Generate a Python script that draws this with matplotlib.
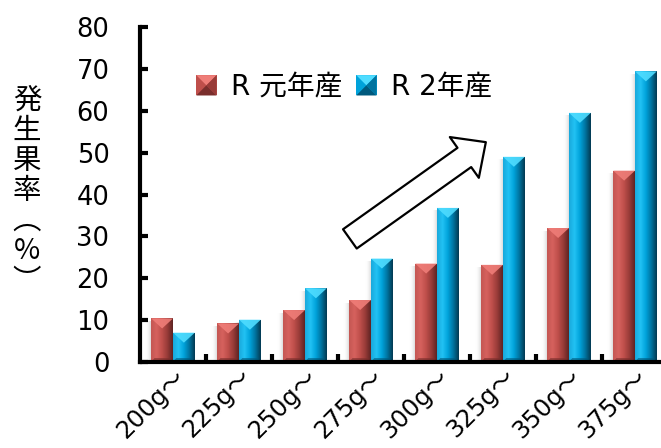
import numpy as np
import matplotlib
matplotlib.use('Agg')
import matplotlib.pyplot as plt
from matplotlib.colors import LinearSegmentedColormap
from matplotlib.patches import Polygon, Rectangle, FancyArrowPatch, ArrowStyle
from matplotlib.legend_handler import HandlerBase

# data
categories = ['200g～', '225g～', '250g～', '275g～', '300g～', '325g～', '350g～', '375g～']
series_names = ['R 元年産', 'R 2年産']
r1_values = [10.4, 9.2, 12.4, 14.8, 23.5, 23.2, 32.0, 45.7]
r2_values = [7.0, 10.1, 17.6, 24.7, 36.8, 49.0, 59.5, 69.4]

# bar styling: side-to-side gradient, top highlight, bottom shade
red_style = dict(base='#b84c48',
                 stops=['#c45753', '#d6625e', '#bf4f4b', '#983b38', '#5e2423'],
                 top='#ef7d78', bottom='#7a2e2c')
blue_style = dict(base='#00a4dc',
                  stops=['#19a9dc', '#22c2f4', '#00a2da', '#00739f', '#033a52'],
                  top='#4fdcff', bottom='#00597d')

plt.rcParams['font.family'] = ['DejaVu Sans', 'Noto Sans CJK JP']

fig = plt.figure(figsize=(6.61, 4.48), dpi=100)
ax = fig.add_axes([140 / 661, 86 / 448, 528 / 661, 335 / 448])

x = np.arange(len(categories))
w = 0.33
bars1 = ax.bar(x - w / 2, r1_values, w, color=red_style['base'], zorder=2)
bars2 = ax.bar(x + w / 2, r2_values, w, color=blue_style['base'], zorder=2)

ax.set_xlim(-0.5, 7.5)
ax.set_ylim(0, 80)

# data units per pixel (y)
ypx = 80 / (335.0)


def shade_bar(bar, st):
    x0, y0 = bar.get_x(), bar.get_y()
    bw, bh = bar.get_width(), bar.get_height()
    cmap = LinearSegmentedColormap.from_list('g', st['stops'])
    grad = np.linspace(0, 1, 64).reshape(1, -1)
    im = ax.imshow(grad, extent=(x0, x0 + bw, y0, y0 + bh), aspect='auto',
                   cmap=cmap, origin='lower', zorder=3, interpolation='bilinear')
    im.set_clip_path(bar)
    d = 10 * ypx
    ax.add_patch(Polygon([(x0, bh), (x0 + bw, bh), (x0 + bw / 2, bh - d)],
                         closed=True, fc=st['top'], ec='none', zorder=4, alpha=0.9))
    d2 = 4 * ypx
    ax.add_patch(Polygon([(x0, 0), (x0 + bw, 0), (x0 + bw * 0.85, d2), (x0 + bw * 0.15, d2)],
                         closed=True, fc=st['bottom'], ec='none', zorder=4, alpha=0.6))
    # soft shadow on the left
    sh = np.linspace(0, 1, 16).reshape(1, -1)
    ax.imshow(sh, extent=(x0 - 0.09, x0, y0, y0 + bh - 3 * ypx), aspect='auto',
              cmap=LinearSegmentedColormap.from_list('s', ['#ffffff00', '#00000022']),
              origin='lower', zorder=1.5)


for b in bars1:
    shade_bar(b, red_style)
for b in bars2:
    shade_bar(b, blue_style)

ax.set_xlim(-0.5, 7.5)
ax.set_ylim(0, 80)

# axes
for s in ['top', 'right']:
    ax.spines[s].set_visible(False)
for s in ['left', 'bottom']:
    ax.spines[s].set_linewidth(3)
    ax.spines[s].set_zorder(6)

ax.set_yticks(np.arange(0, 81, 10))
ax.tick_params(axis='y', direction='in', length=6, width=3, pad=22, labelsize=18.5)
ax.set_xticks(x)
ax.set_xticklabels(categories, rotation=45, ha='right', va='top', rotation_mode='anchor', fontsize=17.5)
ax.tick_params(axis='x', length=0, pad=2)
ax.set_xticks(np.arange(0.5, 7.5, 1), minor=True)
ax.tick_params(axis='x', which='minor', direction='in', length=6, width=3)

# y label, stacked vertically
fig.text(27 / 661, 1 - 191 / 448, '発\n生\n果\n率\n︵\n%\n︶', family='Noto Sans CJK JP',
         fontsize=20.5, ha='center', va='center', linespacing=1.0)


# legend handles drawn as bevelled squares
class BevelHandler(HandlerBase):
    def create_artists(self, legend, orig_handle, xdescent, ydescent, width, height, fontsize, trans):
        st = orig_handle.st
        s = height
        x0 = xdescent * -1 + (width - s) / 2
        y0 = -ydescent
        arts = [Rectangle((x0, y0), s, s, fc=st['stops'][2], ec='none', transform=trans),
                Polygon([(x0, y0 + s), (x0 + s, y0 + s), (x0 + s / 2, y0 + s / 2)],
                        fc=st['top'], ec='none', transform=trans),
                Polygon([(x0, y0), (x0 + s, y0), (x0 + s / 2, y0 + s / 2)],
                        fc=st['bottom'], ec='none', transform=trans),
                Polygon([(x0 + s, y0), (x0 + s, y0 + s), (x0 + s / 2, y0 + s / 2)],
                        fc=st['stops'][3], ec='none', transform=trans)]
        return arts


h1 = Rectangle((0, 0), 1, 1)
h1.st = red_style
h2 = Rectangle((0, 0), 1, 1)
h2.st = blue_style
leg = fig.legend([h1, h2], series_names, loc='center left',
                 bbox_to_anchor=(196 / 661, 1 - 87 / 448), ncol=2, frameon=False,
                 fontsize=20, handlelength=0.75, handleheight=0.75, handletextpad=0.5,
                 columnspacing=0.5, borderpad=0, borderaxespad=0,
                 handler_map={Rectangle: BevelHandler()})

# trend arrow
arrow = FancyArrowPatch((2.68, 29.4), (4.74, 52.5),
                        arrowstyle=ArrowStyle.Simple(head_length=19, head_width=36, tail_width=17),
                        mutation_scale=1, fc='white', ec='black', lw=1.6,
                        shrinkA=0, shrinkB=0, zorder=7)
ax.add_patch(arrow)

fig.savefig('out.png', dpi=100)
